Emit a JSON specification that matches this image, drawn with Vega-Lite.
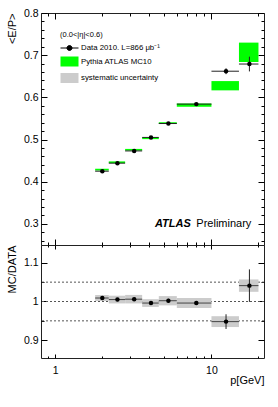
{
  "$schema": "https://vega.github.io/schema/vega-lite/v6.json",
  "background": "white",
  "padding": {"left": 5, "top": 7, "right": 10, "bottom": 5},
  "spacing": 0,
  "bounds": "flush",
  "config": {
    "font": "Liberation Sans",
    "view": {"stroke": "#222", "strokeWidth": 1},
    "axis": {"domain": false, "grid": false, "tickColor": "#000", "tickWidth": 1, "labelFont": "Liberation Sans", "labelFontSize": 10.5, "labelColor": "#000", "titleFont": "Liberation Sans", "titleFontSize": 11, "titleFontWeight": "normal", "titleColor": "#000"}
  },
  "datasets": {
    "bins": [
      {"lo": 1.8, "hi": 2.2, "p": 2.0, "data": 0.425, "data_lo": 0.423, "data_hi": 0.427, "mc_lo": 0.4268, "mc_hi": 0.4308, "ratio": 1.009, "ratio_lo": 1.005, "ratio_hi": 1.013, "syst_lo": 1.001, "syst_hi": 1.017},
      {"lo": 2.2, "hi": 2.8, "p": 2.5, "data": 0.444, "data_lo": 0.442, "data_hi": 0.446, "mc_lo": 0.4442, "mc_hi": 0.4482, "ratio": 1.005, "ratio_lo": 1.001, "ratio_hi": 1.009, "syst_lo": 0.995, "syst_hi": 1.015},
      {"lo": 2.8, "hi": 3.6, "p": 3.2, "data": 0.473, "data_lo": 0.471, "data_hi": 0.475, "mc_lo": 0.4738, "mc_hi": 0.4778, "ratio": 1.006, "ratio_lo": 1.002, "ratio_hi": 1.010, "syst_lo": 0.995, "syst_hi": 1.017},
      {"lo": 3.6, "hi": 4.6, "p": 4.1, "data": 0.505, "data_lo": 0.503, "data_hi": 0.507, "mc_lo": 0.5010, "mc_hi": 0.5050, "ratio": 0.996, "ratio_lo": 0.992, "ratio_hi": 1.000, "syst_lo": 0.986, "syst_hi": 1.006},
      {"lo": 4.6, "hi": 6.0, "p": 5.3, "data": 0.538, "data_lo": 0.535, "data_hi": 0.541, "mc_lo": 0.5370, "mc_hi": 0.5410, "ratio": 1.002, "ratio_lo": 0.997, "ratio_hi": 1.007, "syst_lo": 0.990, "syst_hi": 1.014},
      {"lo": 6.0, "hi": 10.0, "p": 8.0, "data": 0.584, "data_lo": 0.581, "data_hi": 0.587, "mc_lo": 0.5777, "mc_hi": 0.5857, "ratio": 0.996, "ratio_lo": 0.991, "ratio_hi": 1.001, "syst_lo": 0.983, "syst_hi": 1.009},
      {"lo": 10.0, "hi": 15.0, "p": 12.4, "data": 0.662, "data_lo": 0.655, "data_hi": 0.669, "mc_lo": 0.6166, "mc_hi": 0.6386, "ratio": 0.948, "ratio_lo": 0.929, "ratio_hi": 0.967, "syst_lo": 0.934, "syst_hi": 0.962},
      {"lo": 15.0, "hi": 20.0, "p": 17.5, "data": 0.679, "data_lo": 0.6615, "data_hi": 0.6965, "mc_lo": 0.6838, "mc_hi": 0.7298, "ratio": 1.041, "ratio_lo": 0.999, "ratio_hi": 1.083, "syst_lo": 1.025, "syst_hi": 1.057}
    ],
    "refs": [{"ref": 0.95}, {"ref": 1.0}, {"ref": 1.05}]
  },
  "resolve": {"scale": {"color": "independent"}},
  "vconcat": [
    {
      "width": 223,
      "height": 232,
      "data": {"name": "bins"},
      "resolve": {"axis": {"x": "independent", "y": "independent"}},
      "layer": [
        {
          "mark": {"type": "rect"},
          "encoding": {
            "x": {"field": "lo", "type": "quantitative", "scale": {"type": "log", "domain": [0.81, 21.7], "nice": false},
              "axis": {"orient": "bottom", "values": [0.9, 1, 2, 3, 4, 5, 6, 7, 8, 9, 10, 20], "labels": false, "title": null,
                "tickSize": {"condition": {"test": "datum.value == 1 || datum.value == 10", "value": -6}, "value": -3}}},
            "x2": {"field": "hi"},
            "y": {"field": "mc_lo", "type": "quantitative", "scale": {"domain": [0.25, 0.8], "nice": false, "zero": false},
              "axis": {"orient": "left", "values": [0.26,0.28,0.3,0.32,0.34,0.36,0.38,0.4,0.42,0.44,0.46,0.48,0.5,0.52,0.54,0.56,0.58,0.6,0.62,0.64,0.66,0.68,0.7,0.72,0.74,0.76,0.78,0.8],
                "labelExpr": "abs(datum.value*10 - round(datum.value*10)) < 0.001 ? format(datum.value, '.1f') : ''",
                "tickSize": {"condition": {"test": "abs(datum.value*10 - round(datum.value*10)) < 0.001", "value": -6}, "value": -3},
                "labelPadding": 9,
                "title": "<E/P>", "titleAngle": 270, "titleAlign": "right", "titleBaseline": "middle", "titleX": -29, "titleY": 0}},
            "y2": {"field": "mc_hi"},
            "color": {"datum": "Pythia ATLAS MC10", "type": "nominal",
              "scale": {"domain": ["Data 2010. L=866 μb⁻¹", "Pythia ATLAS MC10", "systematic uncertainty"], "range": ["#000000", "#00ff00", "#cccccc"]},
              "legend": {"title": "(0.0<|η|<0.6)", "orient": "none", "legendX": 19, "legendY": 18,
                "titleFontSize": 7.5, "titleFontWeight": "normal", "titleFont": "Liberation Sans", "titleColor": "#000", "titlePadding": 4,
                "labelFontSize": 7.8, "labelFont": "Liberation Sans", "labelColor": "#000", "labelOffset": 6, "symbolOffset": 4,
                "rowPadding": 1.5, "symbolSize": 100, "symbolStrokeWidth": 1, "symbolOpacity": 1,
                "encode": {"symbols": {"update": {
                  "shape": {"signal": "datum.index === 0 ? 'M-1.8,0H1.8M-0.5,0A0.5,0.5 0 1,0 0.5,0A0.5,0.5 0 1,0 -0.5,0Z' : 'M-1.8,-1H1.8V1H-1.8Z'"},
                  "stroke": {"signal": "datum.index === 0 ? '#000000' : 'transparent'"},
                  "fill": {"signal": "datum.index === 0 ? '#000000' : datum.index === 1 ? '#00ff00' : '#cccccc'"}
                }}}}}
          }
        },
        {
          "mark": {"type": "rule", "color": "#222", "strokeWidth": 1},
          "encoding": {
            "x": {"field": "lo", "type": "quantitative",
              "axis": {"orient": "top", "values": [0.9, 1, 2, 3, 4, 5, 6, 7, 8, 9, 10, 20], "labels": false, "title": null,
                "tickSize": {"condition": {"test": "datum.value == 1 || datum.value == 10", "value": -6}, "value": -3}}},
            "x2": {"field": "hi"},
            "y": {"field": "data", "type": "quantitative",
              "axis": {"orient": "right", "values": [0.26,0.28,0.3,0.32,0.34,0.36,0.38,0.4,0.42,0.44,0.46,0.48,0.5,0.52,0.54,0.56,0.58,0.6,0.62,0.64,0.66,0.68,0.7,0.72,0.74,0.76,0.78,0.8],
                "labels": false, "title": null,
                "tickSize": {"condition": {"test": "abs(datum.value*10 - round(datum.value*10)) < 0.001", "value": -6}, "value": -3}}}
          }
        },
        {
          "mark": {"type": "rule", "color": "#222", "strokeWidth": 1},
          "encoding": {
            "x": {"field": "p", "type": "quantitative", "axis": null},
            "y": {"field": "data_lo", "type": "quantitative", "axis": null},
            "y2": {"field": "data_hi"}
          }
        },
        {
          "mark": {"type": "point", "filled": true, "size": 20, "opacity": 1},
          "encoding": {
            "x": {"field": "p", "type": "quantitative", "axis": null},
            "y": {"field": "data", "type": "quantitative", "axis": null},
            "color": {"datum": "Data 2010. L=866 μb⁻¹", "type": "nominal"}
          }
        },
        {
          "data": {"values": [{"label": "ATLAS"}]},
          "mark": {"type": "text", "font": "Liberation Sans", "fontWeight": "bold", "fontStyle": "italic", "fontSize": 11, "align": "right", "baseline": "middle", "color": "#000"},
          "encoding": {
            "text": {"field": "label"},
            "x": {"datum": 7.37, "type": "quantitative", "axis": null},
            "y": {"datum": 0.3, "type": "quantitative", "axis": null}
          }
        },
        {
          "data": {"values": [{"label": "Preliminary"}]},
          "mark": {"type": "text", "font": "Liberation Sans", "fontSize": 11, "align": "left", "baseline": "middle", "color": "#000"},
          "encoding": {
            "text": {"field": "label"},
            "x": {"datum": 8.0, "type": "quantitative", "axis": null},
            "y": {"datum": 0.3, "type": "quantitative", "axis": null}
          }
        }
      ]
    },
    {
      "width": 223,
      "height": 113,
      "data": {"name": "bins"},
      "resolve": {"axis": {"x": "independent", "y": "independent"}},
      "layer": [
        {
          "data": {"name": "refs"},
          "mark": {"type": "rule", "color": "#555", "strokeDash": [2, 2], "strokeWidth": 1},
          "encoding": {
            "y": {"field": "ref", "type": "quantitative", "scale": {"domain": [0.854, 1.146], "nice": false, "zero": false}, "axis": null}
          }
        },
        {
          "mark": {"type": "rect", "color": "#cccccc"},
          "encoding": {
            "x": {"field": "lo", "type": "quantitative", "scale": {"type": "log", "domain": [0.81, 21.7], "nice": false},
              "axis": {"orient": "bottom", "values": [0.9, 1, 2, 3, 4, 5, 6, 7, 8, 9, 10, 20],
                "labelExpr": "datum.value == 1 ? '1' : datum.value == 10 ? '10' : ''",
                "tickSize": {"condition": {"test": "datum.value == 1 || datum.value == 10", "value": -4}, "value": -2},
                "labelPadding": 11,
                "title": "p[GeV]", "titleAlign": "right", "titleBaseline": "middle", "titleX": 223, "titleY": 22}},
            "x2": {"field": "hi"},
            "y": {"field": "syst_lo", "type": "quantitative",
              "axis": {"orient": "left", "values": [0.9, 0.95, 1.0, 1.05, 1.1],
                "labelExpr": "datum.value == 1 ? '1' : abs(datum.value*10 - round(datum.value*10)) < 0.001 ? format(datum.value, '.1f') : ''",
                "tickSize": {"condition": {"test": "abs(datum.value*10 - round(datum.value*10)) < 0.001", "value": -6}, "value": -3},
                "labelPadding": 9,
                "title": "MC/DATA", "titleAngle": 270, "titleAlign": "right", "titleBaseline": "middle", "titleX": -29, "titleY": 0}},
            "y2": {"field": "syst_hi"}
          }
        },
        {
          "mark": {"type": "rule", "color": "#444", "strokeWidth": 1},
          "encoding": {
            "x": {"field": "lo", "type": "quantitative",
              "axis": {"orient": "top", "values": [0.9, 1, 2, 3, 4, 5, 6, 7, 8, 9, 10, 20], "labels": false, "title": null,
                "tickSize": {"condition": {"test": "datum.value == 1 || datum.value == 10", "value": -4}, "value": -2}}},
            "x2": {"field": "hi"},
            "y": {"field": "ratio", "type": "quantitative",
              "axis": {"orient": "right", "values": [0.9, 0.95, 1.0, 1.05, 1.1], "labels": false, "title": null,
                "tickSize": {"condition": {"test": "abs(datum.value*10 - round(datum.value*10)) < 0.001", "value": -6}, "value": -3}}}
          }
        },
        {
          "mark": {"type": "rule", "color": "#222", "strokeWidth": 1},
          "encoding": {
            "x": {"field": "p", "type": "quantitative", "axis": null},
            "y": {"field": "ratio_lo", "type": "quantitative", "axis": null},
            "y2": {"field": "ratio_hi"}
          }
        },
        {
          "mark": {"type": "point", "filled": true, "size": 20, "color": "#000", "opacity": 1},
          "encoding": {
            "x": {"field": "p", "type": "quantitative", "axis": null},
            "y": {"field": "ratio", "type": "quantitative", "axis": null}
          }
        }
      ]
    }
  ]
}
